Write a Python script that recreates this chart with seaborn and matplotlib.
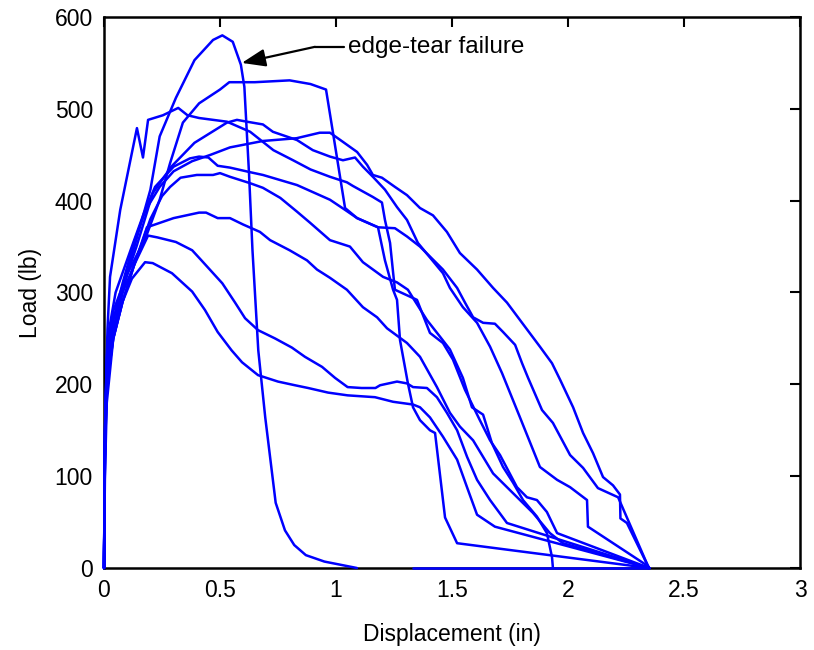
import numpy as np
import pandas as pd
import matplotlib
matplotlib.use("Agg")
import matplotlib.pyplot as plt
import seaborn as sns

# ---------------- data (displacement in, load lb) ----------------
d1 = [0, 0.004, 0.015, 0.05, 0.12, 0.17, 0.2, 0.24, 0.31, 0.39, 0.47, 0.51, 0.555, 0.59, 0.605, 0.625, 0.64, 0.665, 0.695, 0.74, 0.78, 0.82, 0.87, 0.95, 1.09]
L1 = [0, 150, 250, 300, 350, 385, 412, 470, 512, 553, 575, 580, 573, 548, 524, 430, 346, 237, 164, 71, 41, 25, 14, 7, 0]
d1b = [1.33, 2.35]
L1b = [0, 0]

d2 = [0, 0.004, 0.012, 0.04, 0.1, 0.18, 0.24, 0.285, 0.34, 0.41, 0.5, 0.54, 0.65, 0.8, 0.89, 0.957, 0.987, 1.039, 1.091, 1.181, 1.211, 1.246, 1.263, 1.276, 1.31, 1.332, 1.362, 1.405, 1.427, 1.47, 1.522, 2.35]
L2 = [0, 150, 230, 280, 320, 360, 401, 441, 485, 506, 521, 529, 529, 531, 527, 521, 474, 392, 381, 371, 335, 303, 292, 248, 201, 175, 161, 150, 147, 55, 27, 0]

d3 = [0, 0.005, 0.015, 0.026, 0.07, 0.142, 0.168, 0.19, 0.254, 0.32, 0.36, 0.41, 0.53, 0.63, 0.73, 0.815, 0.89, 0.974, 1.047, 1.073, 1.116, 1.159, 1.198, 1.211, 1.233, 1.246, 1.254, 1.349, 1.405, 1.461, 1.504, 1.556, 1.62, 1.664, 1.707, 1.78, 1.823, 1.866, 1.909, 1.953, 2.35]
L3 = [0, 150, 260, 317, 390, 479, 447, 488, 493, 501, 493, 490, 486, 475, 455, 444, 434, 426, 420, 416, 410, 404, 398, 379, 354, 322, 303, 292, 256, 245, 227, 194, 161, 139, 123, 88, 77, 74, 61, 38, 0]

d4 = [0, 0.004, 0.012, 0.04, 0.08, 0.14, 0.21, 0.29, 0.39, 0.53, 0.573, 0.616, 0.685, 0.728, 0.832, 0.9, 0.974, 1.03, 1.082, 1.116, 1.159, 1.211, 1.263, 1.306, 1.353, 1.461, 1.491, 1.547, 1.608, 1.664, 1.716, 1.793, 1.879, 1.953, 2.009, 2.082, 2.086, 2.345, 2.35]
L4 = [0, 140, 220, 270, 305, 350, 408, 437, 463, 485, 488, 486, 483, 475, 466, 455, 448, 444, 447, 437, 426, 412, 393, 379, 354, 321, 305, 284, 267, 241, 212, 164, 110, 96, 88, 74, 45, 2, 0]

d5 = [0, 0.004, 0.012, 0.04, 0.08, 0.13, 0.18, 0.24, 0.3, 0.38, 0.46, 0.543, 0.685, 0.83, 0.93, 0.974, 1.03, 1.091, 1.134, 1.159, 1.198, 1.254, 1.306, 1.362, 1.418, 1.478, 1.534, 1.608, 1.677, 1.737, 1.802, 1.879, 1.931, 1.966, 2.022, 2.065, 2.108, 2.151, 2.194, 2.224, 2.226, 2.254, 2.345, 2.35]
L5 = [0, 140, 220, 270, 310, 355, 390, 415, 432, 443, 450, 458, 465, 468, 474, 474, 464, 453, 439, 428, 425, 415, 406, 392, 384, 366, 343, 325, 305, 289, 267, 241, 223, 205, 175, 147, 125, 99, 90, 80, 54, 49, 2, 0]

d6 = [0, 0.004, 0.012, 0.04, 0.08, 0.12, 0.17, 0.22, 0.3, 0.37, 0.41, 0.45, 0.49, 0.543, 0.63, 0.685, 0.832, 0.974, 1.039, 1.091, 1.181, 1.254, 1.306, 1.362, 1.461, 1.522, 1.556, 1.591, 1.634, 1.685, 1.72, 1.772, 1.802, 1.828, 1.888, 1.935, 2.009, 2.065, 2.129, 2.216, 2.345, 2.35]
L6 = [0, 130, 210, 260, 300, 340, 385, 415, 437, 446, 448, 447, 438, 436, 431, 428, 417, 401, 390, 381, 371, 370, 361, 350, 325, 305, 289, 273, 267, 266, 257, 243, 223, 207, 172, 158, 123, 109, 87, 77, 2, 0]

d7 = [0, 0.004, 0.012, 0.04, 0.08, 0.13, 0.2, 0.25, 0.285, 0.33, 0.4, 0.47, 0.5, 0.543, 0.63, 0.685, 0.76, 0.832, 0.888, 0.974, 1.06, 1.116, 1.203, 1.263, 1.31, 1.332, 1.392, 1.448, 1.491, 1.547, 1.586, 1.634, 1.672, 1.72, 1.763, 1.806, 1.866, 1.909, 1.931, 1.935]
L7 = [0, 130, 200, 250, 290, 330, 380, 405, 415, 425, 428, 428, 430, 426, 419, 414, 403, 388, 376, 357, 350, 333, 317, 311, 303, 294, 270, 252, 238, 207, 175, 167, 136, 110, 93, 74, 56, 38, 12, 0]

d8 = [0, 0.004, 0.012, 0.04, 0.08, 0.13, 0.185, 0.3, 0.41, 0.44, 0.49, 0.543, 0.6, 0.672, 0.716, 0.8, 0.875, 0.918, 0.974, 1.047, 1.116, 1.177, 1.22, 1.306, 1.362, 1.435, 1.491, 1.534, 1.591, 1.634, 1.677, 1.737, 1.793, 1.849, 1.922, 1.978, 2.35]
L8 = [0, 120, 200, 250, 290, 330, 371, 381, 387, 387, 381, 381, 374, 366, 357, 346, 335, 325, 316, 303, 284, 273, 261, 245, 230, 197, 169, 154, 139, 121, 103, 88, 74, 60, 38, 27, 0]

d9 = [0, 0.004, 0.012, 0.04, 0.08, 0.13, 0.19, 0.23, 0.31, 0.38, 0.42, 0.51, 0.565, 0.608, 0.664, 0.737, 0.81, 0.866, 0.94, 0.996, 1.05, 1.11, 1.17, 1.19, 1.263, 1.306, 1.332, 1.392, 1.435, 1.478, 1.522, 1.565, 1.608, 1.664, 1.737, 2.35]
L9 = [0, 120, 200, 260, 300, 330, 362, 360, 355, 346, 335, 310, 289, 272, 259, 250, 240, 230, 219, 207, 197, 196, 196, 199, 203, 201, 197, 196, 186, 169, 150, 121, 96, 74, 49, 0]

d10 = [0, 0.004, 0.012, 0.04, 0.08, 0.12, 0.177, 0.21, 0.293, 0.38, 0.435, 0.49, 0.55, 0.595, 0.664, 0.75, 0.823, 0.88, 0.966, 1.05, 1.168, 1.246, 1.332, 1.362, 1.405, 1.461, 1.522, 1.569, 1.608, 1.685, 2.35]
L10 = [0, 100, 180, 250, 290, 315, 333, 332, 321, 301, 281, 257, 237, 224, 210, 203, 199, 196, 191, 188, 186, 181, 178, 175, 164, 143, 118, 85, 58, 45, 0]

x_ticks = [0, 0.5, 1, 1.5, 2, 2.5, 3]
x_tick_labels = ["0", "0.5", "1", "1.5", "2", "2.5", "3"]
y_ticks = [0, 100, 200, 300, 400, 500, 600]

curves = {
    "1": (d1, L1), "1b": (d1b, L1b), "2": (d2, L2), "3": (d3, L3),
    "4": (d4, L4), "5": (d5, L5), "6": (d6, L6), "7": (d7, L7),
    "8": (d8, L8), "9": (d9, L9), "10": (d10, L10),
}
frames = []
for name, (dx, ly) in curves.items():
    frames.append(pd.DataFrame({"curve": name, "d": dx, "L": ly}))
df = pd.concat(frames, ignore_index=True)

# ---------------- plot ----------------
sns.set_style("white")
plt.rcParams["font.family"] = ["Liberation Sans", "DejaVu Sans"]
plt.rcParams["text.color"] = "black"
plt.rcParams["axes.labelcolor"] = "black"
plt.rcParams["xtick.color"] = "black"
plt.rcParams["ytick.color"] = "black"

fig = plt.figure(figsize=(8.14, 6.5), dpi=100)
ax = fig.add_axes([104 / 814, 1 - 568 / 650, 696 / 814, 551 / 650])

sns.lineplot(data=df, x="d", y="L", units="curve", estimator=None, sort=False,
             color=(0, 0, 1), linewidth=1.8, legend=False, ax=ax,
             clip_on=False, zorder=3)

ax.set_xlim(0, 3)
ax.set_ylim(0, 600)
ax.set_xticks(x_ticks)
ax.set_xticklabels(x_tick_labels)
ax.set_yticks(y_ticks)
ax.tick_params(direction="in", length=7, width=1.5, top=True, right=True,
               labelsize=16.5, pad=8, colors="black", labelcolor="black")
for s in ax.spines.values():
    s.set_visible(True)
    s.set_color("black")
    s.set_linewidth(1.8)

ax.set_xlabel("Displacement (in)", fontsize=16.5, labelpad=15, color="black")
ax.set_ylabel("Load (lb)", fontsize=16.5, labelpad=9, color="black")

# annotation
ax.annotate("", xy=(0.594, 550), xytext=(0.909, 567.5),
            arrowprops=dict(arrowstyle="-|>,head_length=0.8,head_width=0.3",
                            mutation_scale=18, color="black", lw=1.6,
                            shrinkA=0, shrinkB=0))
ax.plot([0.909, 1.035], [567.5, 567.5], color="black", lw=1.6)
ax.text(1.05, 567.5, "edge-tear failure", ha="left", va="center",
        fontsize=17.5, color="black")

fig.savefig("out.png", dpi=100)
